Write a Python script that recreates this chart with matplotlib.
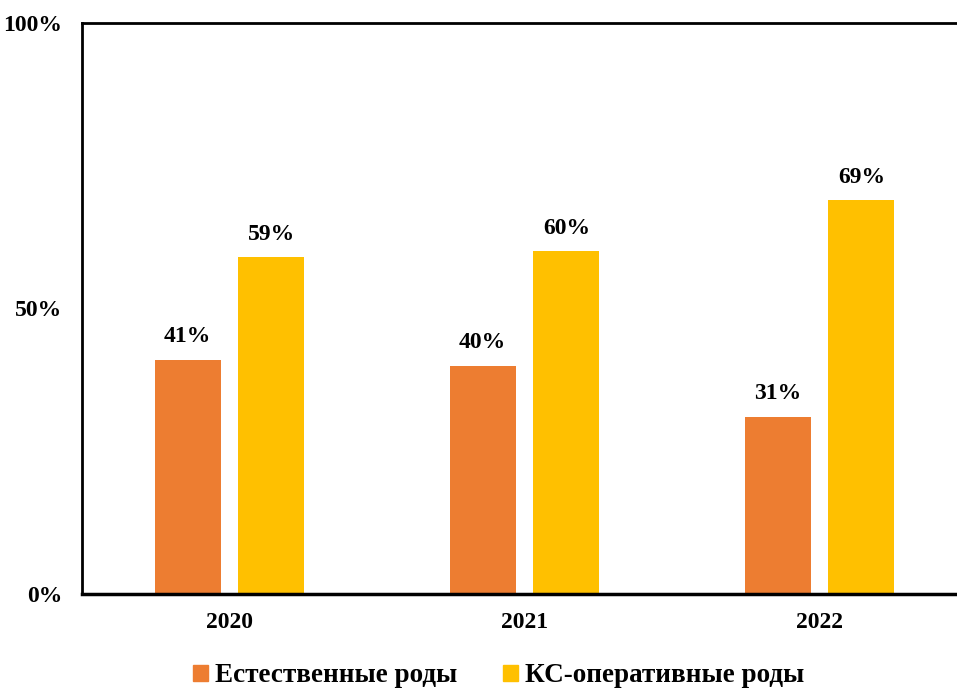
import matplotlib
matplotlib.use("Agg")
import matplotlib.pyplot as plt
import numpy as np
from matplotlib.patches import Patch

years = ["2020", "2021", "2022"]
natural = [41, 40, 31]
cesarean = [59, 60, 69]
series_names = ["Естественные роды", "КС-оперативные роды"]
ytick_labels = ["0%", "50%", "100%"]

plt.rcParams['font.family'] = ['Liberation Serif', 'DejaVu Serif']
plt.rcParams['font.weight'] = 'bold'

fig = plt.figure(figsize=(9.57, 6.89), dpi=100)
ax = fig.add_axes([82/957, 1-594/689, 885/957, (594-23)/689])

x = np.arange(len(years))
w = 0.224
off = 0.142
c1, c2 = "#ED7D31", "#FFC000"
b1 = ax.bar(x - off, natural, w, color=c1)
b2 = ax.bar(x + off, cesarean, w, color=c2)

for bars, vals in ((b1, natural), (b2, cesarean)):
    for b, v in zip(bars, vals):
        ax.annotate(f"{v}%", (b.get_x() + b.get_width()/2, v),
                    xytext=(0, 9), textcoords="offset points",
                    ha="center", va="bottom", fontsize=17, fontweight="bold")

ax.set_xlim(-0.5, 2.5)
ax.set_ylim(0, 100)
ax.set_yticks([0, 50, 100])
ax.set_yticklabels(ytick_labels, fontsize=17, fontweight="bold")
ax.set_xticks(x)
ax.set_xticklabels(years, fontsize=17, fontweight="bold")
ax.tick_params(axis="y", length=0, pad=14)
ax.tick_params(axis="x", length=0, pad=13)
ax.spines["right"].set_visible(False)
ax.spines["left"].set_linewidth(2)
ax.spines["top"].set_linewidth(2)
ax.spines["bottom"].set_linewidth(2.5)

handles = [Patch(color=c1), Patch(color=c2)]
fig.legend(handles, series_names, loc="center", bbox_to_anchor=(0.521, 1-676/689),
           ncol=2, frameon=False, prop={'size': 19.5, 'weight': 'bold'},
           handlelength=0.55, handleheight=0.55, handletextpad=0.25, columnspacing=1.7)

fig.savefig("out.png", dpi=100)
